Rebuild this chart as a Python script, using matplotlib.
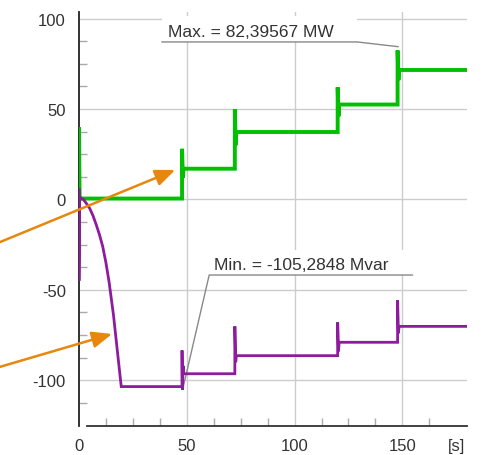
import matplotlib
matplotlib.use('Agg')
import matplotlib.pyplot as plt
from matplotlib.patches import Rectangle

plt.rcParams['font.family'] = ['Liberation Sans', 'DejaVu Sans']
plt.rcParams['axes.unicode_minus'] = False

# Active power P [MW] vs time [s]
t_p = [0, 0, 0.3, 0.6, 47.8, 47.8, 48.2, 48.5, 72.3, 72.3, 72.7, 73.0,
       120.0, 120.0, 120.4, 120.7, 147.8, 147.8, 148.2, 148.5, 180]
p_mw = [0, 40, 0, 0.5, 0.5, 28, 12, 17, 17, 50, 30, 37.3,
        37.3, 62, 46, 52.5, 52.5, 82.4, 66, 71.6, 71.6]

# Reactive power Q [Mvar] vs time [s]
t_q = [0, 0, 0, 0.3, 2, 3.5, 5, 6.5, 8, 9.5, 11, 12.5, 14, 15, 16, 17, 18, 19, 19.6,
       20.5, 47.8, 47.8, 48.0, 48.3, 48.6, 72.3, 72.3, 72.7, 73.0, 120.0, 120.0,
       120.4, 120.7, 147.8, 147.8, 148.2, 148.5, 180]
q_mvar = [0, 6, -45, 1, 0, -2.3, -5, -9, -14, -19.5, -26, -35, -46, -55, -64, -75, -86,
          -97, -103.5, -103.5, -103.5, -83.5, -105.3, -92, -96.4, -96.4, -70.2, -90,
          -86.4, -86.4, -68, -84, -79, -79, -55.8, -74, -70.2, -70.2]

p_max = (148.0, 82.39567)
q_min = (48.0, -105.2848)

x_major = [0, 50, 100, 150, 175]
x_labels = ['0', '50', '100', '150', '[s]']
y_major = [-100, -50, 0, 50, 100]

fig = plt.figure(figsize=(5, 4.56), dpi=100)
ax = fig.add_axes([0.158, 0.0636, 0.776, 0.908])
ax.set_xlim(0, 180)
ax.set_ylim(-125.3, 103.7)

ax.set_axisbelow(True)
for x in [50, 100, 150]:
    ax.axvline(x, color='#cccccc', lw=1, zorder=0.5)
for y in y_major:
    ax.axhline(y, color='#cccccc', lw=1, zorder=0.5)

ax.set_xticks(x_major)
ax.set_xticklabels(x_labels)
ax.set_yticks(y_major)
ax.set_xticks([v * 12.5 for v in range(1, 15) if v % 4 != 0], minor=True)
ax.set_yticks([v * 12.5 for v in range(-9, 9) if v % 4 != 0], minor=True)
ax.tick_params(which='major', length=0, labelsize=12, labelcolor='#333333')
ax.tick_params(axis='y', which='major', pad=9.5)
ax.tick_params(axis='x', which='major', pad=8.5)
ax.tick_params(which='minor', direction='in', length=6, width=1, color='#aaaaaa')

for side in ['top', 'right']:
    ax.spines[side].set_visible(False)
ax.spines['left'].set_color('#222222')
ax.spines['left'].set_linewidth(1.3)
ax.spines['bottom'].set_color('#333333')
ax.spines['bottom'].set_linewidth(1.3)
ax.spines['bottom'].set_bounds(3.7, 180)

ax.plot(t_p, p_mw, color='#00c000', lw=2.8, zorder=3, solid_joinstyle='miter')
ax.plot(t_q, q_mvar, color='#8e1a9e', lw=2.0, zorder=3, solid_joinstyle='miter')

# labelled extreme values
ax.add_patch(Rectangle((38.5, 87.1), 90.6, 14.5, facecolor='white', edgecolor='none', zorder=1))
ax.plot([38.5, 129.1, p_max[0]], [87.1, 87.1, 84.5], color='#888888', lw=1, zorder=2)
ax.text(41.3, 88.5, 'Max. = 82,39567 MW', fontsize=12.5, color='#333333', va='bottom', zorder=2)

ax.add_patch(Rectangle((60.4, -41.8), 94.3, 14, facecolor='white', edgecolor='none', zorder=1))
ax.plot([154.7, 60.4, q_min[0] + 0.5], [-41.8, -41.8, -103], color='#888888', lw=1, zorder=2)
ax.text(62.7, -40.4, 'Min. = -105,2848 Mvar', fontsize=12.5, color='#333333', va='bottom', zorder=2)

# pointer arrows from the left margin
arrow_kw = dict(arrowstyle='-|>,head_length=0.6,head_width=0.25', color='#e8870e',
                lw=1.8, mutation_scale=20, shrinkA=0, shrinkB=0)
ax.annotate('', xy=(44.6, 16.3), xytext=(-36.7, -23.6), arrowprops=arrow_kw,
            annotation_clip=False, zorder=5)
ax.annotate('', xy=(15.3, -74.4), xytext=(-36.7, -92.6), arrowprops=arrow_kw,
            annotation_clip=False, zorder=5)

fig.savefig('out.png', dpi=100)
